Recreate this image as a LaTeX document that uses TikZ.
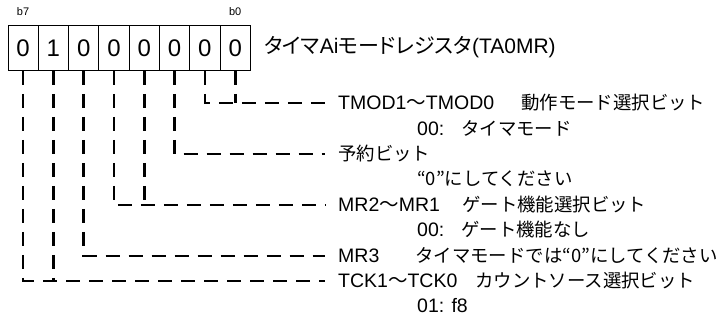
\documentclass[tikz,border=0pt]{standalone}
\usepackage{fontspec}
\setmainfont{Liberation Sans}
\newfontfamily\jp{Noto Sans CJK JP}
\newfontfamily\jpp[RawFeature=+palt]{Noto Sans CJK JP}
\begin{document}
\begin{tikzpicture}[x=1pt,y=-1pt,
  cell/.style={draw, line width=0.9pt, minimum width=30.3pt, minimum height=45pt, inner sep=0pt, font=\fontsize{24}{24}\selectfont, anchor=north west},
  lbl/.style={anchor=west, inner sep=0pt, font=\fontsize{19.5}{19.5}\selectfont},
  jlbl/.style={anchor=west, inner sep=0pt, font=\fontsize{18.4}{18.4}\selectfont\jp},
  conn/.style={line width=2.6pt, dash pattern=on 14pt off 9pt},
]
\useasboundingbox (0,0) rectangle (723,320);
% register cells
\node[cell] (c7) at (7.5,25) {0};
\node[cell] (c6) at (37.8,25) {1};
\node[cell] (c5) at (68.1,25) {0};
\node[cell] (c4) at (98.4,25) {0};
\node[cell] (c3) at (128.7,25) {0};
\node[cell] (c2) at (159,25) {0};
\node[cell] (c1) at (189.3,25) {0};
\node[cell] (c0) at (219.6,25) {0};
\node[font=\fontsize{11}{11}\selectfont] (lb7) at (c7.north |- 0,12) {b7};
\node[font=\fontsize{11}{11}\selectfont] (lb0) at (c0.north |- 0,12) {b0};
\node[anchor=west, inner sep=0pt, font=\fontsize{21}{21}\selectfont] (title) at (264,47) {{\jpp タイマ}Ai{\jpp モードレジスタ}(TA0MR)};
% connector end points
\coordinate (r0) at (325,103);
\coordinate (r2) at (325,154);
\coordinate (r4) at (325,205);
\coordinate (r6) at (325,256);
\coordinate (r7) at (325,281);
% connectors
\draw[conn] (c1.south) |- (r0);
\draw[conn] (c0.south) -- (c0.south |- r0);
\draw[conn] (c2.south) |- (r2);
\draw[conn] (c4.south) |- (r4);
\draw[conn] (c3.south) -- (c3.south |- r4);
\draw[conn] (c5.south) |- (r6);
\draw[conn] (c7.south) |- (r7);
\draw[conn] (c6.south) -- (c6.south |- r7);
% texts
\node[lbl] (t0a) at (338,103) {TMOD1{\jp ～}TMOD0};
\node[jlbl] (t0b) at (521,103) {動作モード選択ビット};
\node[lbl] (t1a) at (417,128.4) {00:};
\node[jlbl] (t1b) at (461,128.4) {タイマモード};
\node[jlbl] (t2) at (338,154) {予約ビット};
\node[jlbl] (t3) at (417,179) {“0”にしてください};
\node[lbl] (t4a) at (338,205) {MR2{\jp ～}MR1};
\node[jlbl] (t4b) at (462,205) {ゲート機能選択ビット};
\node[lbl] (t5a) at (417,230) {00:};
\node[jlbl] (t5b) at (461,230) {ゲート機能なし};
\node[lbl] (t6a) at (338,256) {MR3};
\node[jlbl] (t6b) at (415,256) {タイマモードでは“0”にしてください};
\node[lbl] (t7a) at (338,281) {TCK1{\jp ～}TCK0};
\node[jlbl] (t7b) at (475,281) {カウントソース選択ビット};
\node[lbl] (t8) at (417,306) {01: f8};
\end{tikzpicture}
\end{document}
